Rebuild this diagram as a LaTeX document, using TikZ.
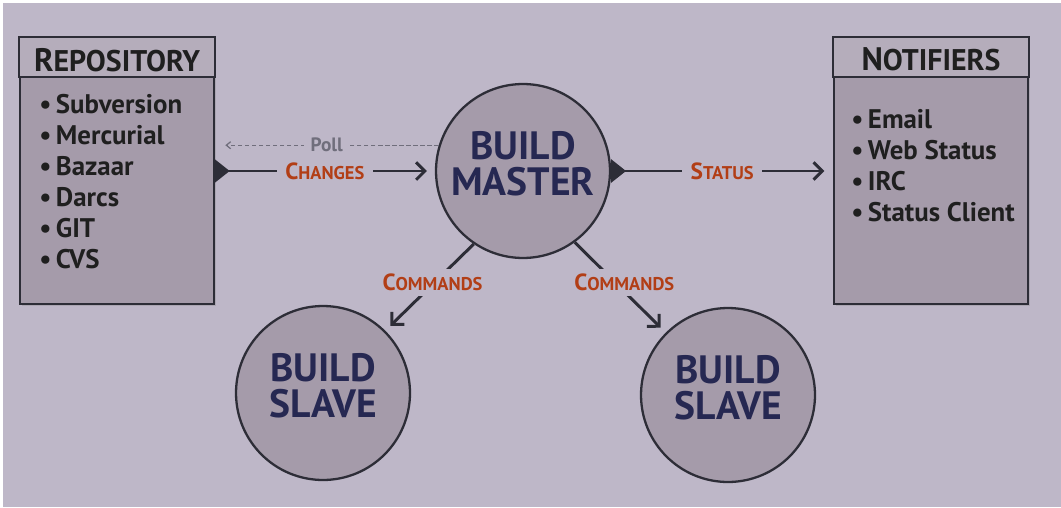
\documentclass[tikz,border=0pt]{standalone}
\usepackage{fontspec}
\setmainfont{PT Sans}
\usetikzlibrary{arrows.meta,positioning,shadows}

\definecolor{bgcol}{RGB}{190,183,200}
\definecolor{boxcol}{RGB}{165,155,170}
\definecolor{headcol}{RGB}{181,173,187}
\definecolor{navy}{RGB}{38,40,82}
\definecolor{rust}{RGB}{178,62,22}
\definecolor{ink}{RGB}{45,45,55}
\definecolor{pollgray}{RGB}{112,110,124}

\newcommand\capword[2]{{\fontsize{13.3}{14}\selectfont #1}{\fontsize{10.5}{12}\selectfont #2}}

\tikzset{
  panel/.style={draw=ink, line width=0.9pt, fill=boxcol, minimum width=3.88cm, minimum height=5.32cm,
    inner sep=0pt, drop shadow={shadow xshift=1pt, shadow yshift=-1pt, opacity=0.3}},
  bubble/.style={circle, draw=ink, line width=1.3pt, fill=boxcol, minimum size=3.48cm, inner sep=0pt,
    align=center, text=navy, text depth=0.3cm, font=\fontsize{22.5}{21}\selectfont\bfseries},
  heading/.style={font=\fontsize{17}{18}\selectfont\bfseries, text=black!88},
  items/.style={align=left, font=\fontsize{15.3}{17.6}\selectfont\bfseries, inner sep=0pt, text=black!88},
  flow/.style={draw=ink, line width=1.7pt, -{Straight Barb[length=5pt,width=10pt]}},
  tab/.tip={Triangle[reversed,length=8.5pt,width=13pt]},
  barb/.tip={Straight Barb[length=5pt,width=10pt]},
  tag/.style={fill=bgcol, text=rust, font=\bfseries, inner xsep=5pt, inner ysep=3pt},
  pollline/.style={draw=pollgray, line width=0.7pt, dash pattern=on 2.5pt off 1.5pt, -{Straight Barb[length=2.5pt,width=4pt]}}
}

\begin{document}
\begin{tikzpicture}[x=0.02cm, y=-0.02cm]
\useasboundingbox (0,0) rectangle (1061,507);
\fill[white] (0,0) rectangle (1061,507);
\fill[bgcol] (3,3) rectangle (1061,507);

% source boxes
\node[panel] (repo) at (117,171) {};
\filldraw[fill=headcol, draw=ink, line width=0.9pt] (repo.north west) rectangle ([yshift=-0.8cm]repo.north east);
\node[heading] (repohead) at ([yshift=-0.45cm]repo.north) {\fontsize{18.5}{18}\selectfont R\fontsize{17}{18}\selectfont EPOSITORY};
\node[items, anchor=north west] (repolist) at (39,94) {\textbullet\,Subversion\\ \textbullet\,Mercurial\\ \textbullet\,Bazaar\\ \textbullet\,Darcs\\ \textbullet\,GIT\\ \textbullet\,CVS};

\node[panel] (notify) at (931,171) {};
\filldraw[fill=headcol, draw=ink, line width=0.9pt] (notify.north west) rectangle ([yshift=-0.8cm]notify.north east);
\node[heading] (notifyhead) at ([yshift=-0.45cm]notify.north) {\fontsize{18.5}{18}\selectfont N\fontsize{17}{18}\selectfont OTIFIERS};
\node[items, anchor=north west] (notifylist) at (851,109) {\textbullet\,Email\\ \textbullet\,Web Status\\ \textbullet\,IRC\\ \textbullet\,Status Client};

% master and slaves
\node[bubble] (master) at (523,171) {BUILD\\MASTER};
\node[bubble] (slaveL) at (323,393) {BUILD\\SLAVE};
\node[bubble] (slaveR) at (728,395) {BUILD\\SLAVE};

% connectors
\draw[pollline, shorten >=6pt] (master.163) -- node[fill=bgcol, text=pollgray, font=\fontsize{11}{12}\selectfont\bfseries, inner xsep=4pt, inner ysep=1pt] {Poll} (master.163 -| repo.east);
\draw[flow, tab-barb, shorten >=4.5pt] (repo.east) -- node[tag] {\capword{C}{HANGES}} (master.west);
\draw[flow, tab-barb, shorten >=5pt] (master.east) -- node[tag] {\capword{S}{TATUS}} (notify.west);
\draw[flow, shorten >=4pt] (master.236) -- node[tag, yshift=0.1cm, xshift=0.06cm] {\capword{C}{OMMANDS}} (slaveL.45);
\draw[flow, shorten >=4pt] (master.306) -- node[tag, yshift=0.1cm, xshift=0.08cm] {\capword{C}{OMMANDS}} (slaveR.135);
\end{tikzpicture}
\end{document}
